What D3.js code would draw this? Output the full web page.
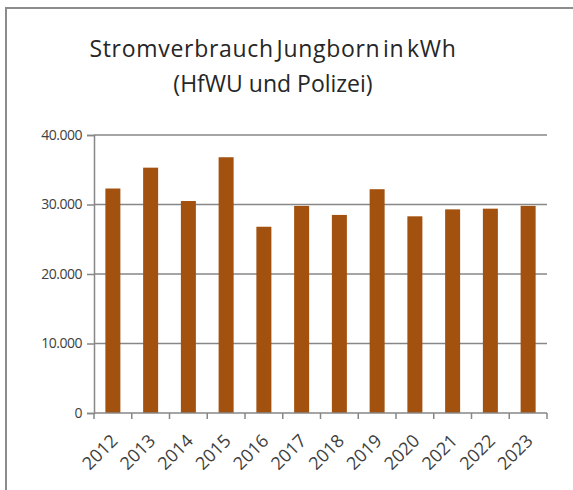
<!DOCTYPE html>
<html>
<head>
<meta charset="utf-8">
<script src="https://cdn.jsdelivr.net/npm/d3@7"></script>
<style>
  body { margin: 0; background: #fff; }
  svg { display: block; font-family: "Open Sans", sans-serif; }
</style>
</head>
<body>
<div id="chart"></div>
<script>
const years = ["2012", "2013", "2014", "2015", "2016", "2017", "2018", "2019", "2020", "2021", "2022", "2023"];
const kwh = [32300, 35300, 30500, 36800, 26800, 29800, 28500, 32200, 28300, 29300, 29400, 29800];
const yTicks = [0, 10000, 20000, 30000, 40000];
const titleLines = ["Stromverbrauch Jungborn in kWh", "(HfWU und Polizei)"];

const width = 573, height = 490;
const margin = { top: 135, right: 26, bottom: 77, left: 94 };

const svg = d3.select("#chart").append("svg")
  .attr("width", width).attr("height", height);

// chart frame
svg.append("rect")
  .attr("x", 6).attr("y", 8)
  .attr("width", 600).attr("height", 600)
  .attr("fill", "none").attr("stroke", "#8c8c8c").attr("stroke-width", 2);

const x = d3.scaleBand().domain(years).range([margin.left, width - margin.right]);
const y = d3.scaleLinear().domain([0, 40000]).range([height - margin.bottom, margin.top]);

const fmt = v => v === 0 ? "0" : d3.format(",")(v).replace(/,/g, ".");

// gridlines
svg.append("g").selectAll("line").data(yTicks.filter(d => d > 0)).join("line")
  .attr("x1", margin.left).attr("x2", width - margin.right)
  .attr("y1", d => y(d)).attr("y2", d => y(d))
  .attr("stroke", "#878787").attr("stroke-width", 1.5);

// bars
svg.append("g").selectAll("rect").data(years).join("rect")
  .attr("x", d => x(d) + x.bandwidth() / 2 - 7.5)
  .attr("width", 15)
  .attr("y", (d, i) => y(kwh[i]))
  .attr("height", (d, i) => y(0) - y(kwh[i]))
  .attr("fill", "#A3510E");

// y axis
const yAxis = svg.append("g").attr("transform", `translate(${margin.left},0)`)
  .call(d3.axisLeft(y).tickValues(yTicks).tickSize(7).tickPadding(5).tickFormat(fmt));
yAxis.select(".domain").attr("stroke", "#878787").attr("stroke-width", 1.5);
yAxis.selectAll(".tick line").attr("stroke", "#878787").attr("stroke-width", 1.5);
yAxis.selectAll("text").attr("fill", "#404040").style("font-size", "14px").style("font-family", "Open Sans").attr("letter-spacing", "-0.5");

// x axis baseline + boundary ticks
const xAxis = svg.append("g").attr("transform", `translate(0,${y(0)})`);
xAxis.append("line")
  .attr("x1", margin.left).attr("x2", width - margin.right)
  .attr("stroke", "#878787").attr("stroke-width", 1.5);
const bounds = years.map(d => x(d)).concat([x(years[years.length - 1]) + x.bandwidth()]);
xAxis.selectAll("line.tk").data(bounds).join("line").attr("class", "tk")
  .attr("x1", d => d).attr("x2", d => d).attr("y1", 0).attr("y2", 6)
  .attr("stroke", "#878787").attr("stroke-width", 1.5);
xAxis.selectAll("text").data(years).join("text")
  .attr("transform", d => `translate(${x(d) + x.bandwidth() / 2 + 6},${29}) rotate(-45)`)
  .attr("text-anchor", "end")
  .attr("fill", "#404040")
  .style("font-size", "18px")
  .text(d => d);

// title
svg.append("g").selectAll("text").data(titleLines).join("text")
  .attr("x", 273).attr("y", (d, i) => 57 + i * 35)
  .attr("text-anchor", "middle")
  .attr("fill", "#262626")
  .style("font-size", "23px")
  .attr("letter-spacing", (d, i) => i === 0 ? "0.7" : "0")
  .attr("word-spacing", (d, i) => i === 0 ? "-4" : "0")
  .text(d => d);
</script>
</body>
</html>
